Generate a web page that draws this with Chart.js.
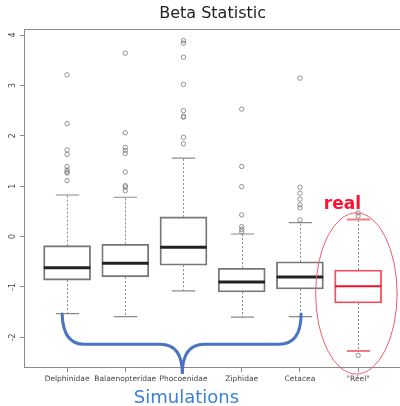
<!DOCTYPE html>
<html>
<head>
<meta charset="utf-8">
<script src="https://cdn.jsdelivr.net/npm/chart.js@4"></script>
<style>
  html, body { margin: 0; padding: 0; background: #fff; overflow: hidden; }
  #wrap { width: 406px; height: 406px; }
</style>
</head>
<body>
<div id="wrap"><canvas id="beta-chart" width="406" height="406"></canvas></div>
<script>
var categories = ['Delphinidae', 'Balaenopteridae', 'Phocoenidae', 'Ziphidae', 'Cetacea', '"Réel"'];
var lowerWhisker = [-1.53, -1.59, -1.08, -1.60, -1.59, -2.27];
var q1 = [-0.865, -0.80, -0.57, -1.10, -1.04, -1.32];
var median = [-0.62, -0.53, -0.215, -0.905, -0.805, -0.985];
var q3 = [-0.18, -0.155, 0.39, -0.63, -0.50, -0.665];
var upperWhisker = [0.825, 0.78, 1.555, 0.05, 0.275, 0.34];
var outliers = [
  [3.21, 2.24, 1.72, 1.63, 1.39, 1.32, 1.28, 1.26, 1.11],
  [3.64, 2.06, 1.77, 1.71, 1.65, 1.28, 1.01, 0.98, 0.91],
  [3.89, 3.84, 3.56, 3.02, 2.50, 2.39, 2.37, 1.97, 1.84],
  [2.53, 1.39, 0.99, 0.43, 0.195, 0.14, 0.095],
  [3.145, 0.98, 0.86, 0.74, 0.63, 0.57, 0.33],
  [0.47, 0.41, -2.36]
];
var yTicks = [-2, -1, 0, 1, 2, 3, 4];

var grey = '#8a8a8a';
var boxColors = ['#777', '#777', '#777', '#777', '#777', '#ff4a5e'];
var medianColors = ['#222', '#222', '#222', '#222', '#222', '#e8142e'];
var capColors = [grey, grey, grey, grey, grey, '#f27a80'];

var outlierPoints = [];
outliers.forEach(function (list, i) {
  list.forEach(function (v) { outlierPoints.push({x: i, y: v}); });
});

// annotations, in data units (category index, value)
var brace = {left: -0.085, right: 4.02, tip: 1.98, top: -1.54, bar: -2.14, point: -2.73};
var ellipse = {x: 4.97, y: -1.13, rx: 0.70, ry: 1.60};

var boxPlugin = {
  id: 'boxParts',
  beforeDatasetsDraw: function (chart) {
    var ctx = chart.ctx, xs = chart.scales.x, ys = chart.scales.y;
    ctx.save();
    categories.forEach(function (c, i) {
      var x = Math.round(xs.getPixelForValue(i)) + 0.5;
      ctx.strokeStyle = grey;
      ctx.lineWidth = 1;
      ctx.setLineDash([2, 2]);
      ctx.beginPath();
      ctx.moveTo(x, ys.getPixelForValue(q3[i]));
      ctx.lineTo(x, ys.getPixelForValue(upperWhisker[i]));
      ctx.moveTo(x, ys.getPixelForValue(q1[i]));
      ctx.lineTo(x, ys.getPixelForValue(lowerWhisker[i]));
      ctx.stroke();
      ctx.setLineDash([]);
      var half = xs.getPixelForValue(i + 0.2) - xs.getPixelForValue(i);
      ctx.strokeStyle = capColors[i];
      ctx.lineWidth = i === 5 ? 2 : 1.2;
      ctx.beginPath();
      [upperWhisker[i], lowerWhisker[i]].forEach(function (v) {
        var y = ys.getPixelForValue(v);
        ctx.moveTo(x - half, y);
        ctx.lineTo(x + half, y);
      });
      ctx.stroke();
    });
    ctx.restore();
  },
  afterDatasetsDraw: function (chart) {
    var ctx = chart.ctx, xs = chart.scales.x, ys = chart.scales.y, a = chart.chartArea;
    ctx.save();
    // medians
    categories.forEach(function (c, i) {
      var half = xs.getPixelForValue(i + 0.4) - xs.getPixelForValue(i);
      var x = xs.getPixelForValue(i), y = ys.getPixelForValue(median[i]);
      ctx.strokeStyle = medianColors[i];
      ctx.lineWidth = i === 5 ? 2 : 3;
      ctx.beginPath();
      ctx.moveTo(x - half, y);
      ctx.lineTo(x + half, y);
      ctx.stroke();
    });
    // frame top and right
    ctx.strokeStyle = grey;
    ctx.lineWidth = 1;
    ctx.beginPath();
    ctx.moveTo(a.left, a.top + 0.5);
    ctx.lineTo(a.right, a.top + 0.5);
    ctx.lineTo(a.right, a.bottom);
    ctx.stroke();
    // y tick labels, rotated like R
    ctx.fillStyle = '#444';
    ctx.font = '8px "DejaVu Sans"';
    ctx.textAlign = 'center';
    ctx.textBaseline = 'middle';
    yTicks.forEach(function (v) {
      ctx.save();
      ctx.translate(12.5, ys.getPixelForValue(v));
      ctx.rotate(-Math.PI / 2);
      ctx.fillText(String(v), 0, 0);
      ctx.restore();
    });
    // title
    ctx.fillStyle = '#222';
    ctx.font = '16px "DejaVu Sans"';
    ctx.fillText('Beta Statistic', (a.left + a.right) / 2, 14);
    // brace
    var px = function (v) { return xs.getPixelForValue(v); };
    var py = function (v) { return ys.getPixelForValue(v); };
    var yb = py(brace.bar);
    ctx.strokeStyle = '#4a73c2';
    ctx.lineWidth = 3;
    ctx.lineCap = 'round';
    ctx.beginPath();
    ctx.moveTo(px(brace.left), py(brace.top));
    ctx.quadraticCurveTo(px(brace.left) + 1, yb, px(brace.left + 0.38), yb);
    ctx.lineTo(px(brace.tip - 0.38), yb);
    ctx.quadraticCurveTo(px(brace.tip), yb, px(brace.tip), py(brace.point));
    ctx.quadraticCurveTo(px(brace.tip), yb, px(brace.tip + 0.38), yb);
    ctx.lineTo(px(brace.right - 0.38), yb);
    ctx.quadraticCurveTo(px(brace.right), yb, px(brace.right), py(brace.top));
    ctx.stroke();
    // ellipse round the real box
    var ex = px(ellipse.x), ey = py(ellipse.y);
    ctx.strokeStyle = '#f25a6a';
    ctx.lineWidth = 1;
    ctx.beginPath();
    ctx.ellipse(ex, ey, px(ellipse.x + ellipse.rx) - ex, ey - py(ellipse.y + ellipse.ry), 0, 0, Math.PI * 2);
    ctx.stroke();
    // annotation texts
    ctx.textBaseline = 'alphabetic';
    ctx.fillStyle = '#ff1030';
    ctx.font = 'bold 17px "DejaVu Sans"';
    ctx.fillText('real', px(4.73), py(0.55));
    ctx.fillStyle = '#3a7fd8';
    ctx.font = '18px "DejaVu Sans"';
    ctx.fillText('Simulations', px(2.05), 403);
    ctx.restore();
  }
};

new Chart(document.getElementById('beta-chart'), {
  type: 'bar',
  data: {
    datasets: [{
      type: 'bar',
      data: categories.map(function (c, i) { return {x: i, y: [q1[i], q3[i]]}; }),
      backgroundColor: 'rgba(255,255,255,0)',
      borderColor: boxColors,
      borderWidth: 1.2,
      borderSkipped: false,
      barThickness: 47
    }, {
      type: 'scatter',
      data: outlierPoints,
      pointRadius: 2.2,
      pointBorderWidth: 0.8,
      pointBorderColor: '#777',
      pointBackgroundColor: 'rgba(255,255,255,0)',
      showLine: false
    }]
  },
  options: {
    responsive: false,
    animation: false,
    layout: { padding: { top: 29, right: 3, left: 0, bottom: 0 } },
    plugins: { legend: { display: false }, tooltip: { enabled: false } },
    scales: {
      x: {
        type: 'linear',
        offset: false,
        min: -0.74,
        max: 5.74,
        afterBuildTicks: function (scale) {
          scale.ticks = categories.map(function (c, i) { return {value: i}; });
        },
        afterFit: function (scale) { scale.height = 39; },
        ticks: {
          autoSkip: false,
          maxRotation: 0,
          padding: 3,
          color: '#444',
          font: { family: 'DejaVu Sans', size: 7.5 },
          callback: function (v) { return categories[v]; }
        },
        grid: { offset: false, drawOnChartArea: false, tickLength: 5, color: grey },
        border: { color: grey }
      },
      y: {
        min: -2.59,
        max: 4.12,
        afterBuildTicks: function (scale) {
          scale.ticks = yTicks.map(function (v) { return {value: v}; });
        },
        afterFit: function (scale) { scale.width = 24; },
        ticks: { display: false },
        grid: { drawOnChartArea: false, tickLength: 4, color: grey },
        border: { color: grey }
      }
    }
  },
  plugins: [boxPlugin]
});
</script>
</body>
</html>
